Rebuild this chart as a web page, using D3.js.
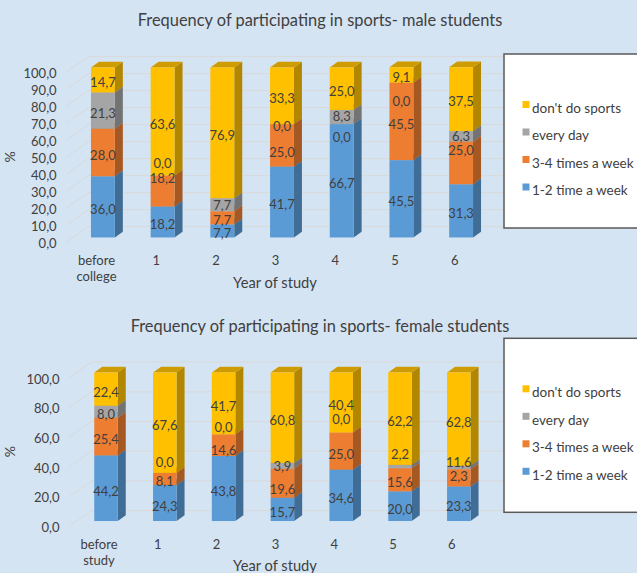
<!DOCTYPE html>
<html>
<head>
<meta charset="utf-8">
<script src="https://cdn.jsdelivr.net/npm/d3@7"></script>
<style>
  html, body { margin: 0; padding: 0; background: #d5e4f3; }
  svg { display: block; }
  text { font-family: Lato, "Open Sans", sans-serif; fill: #404040; }
</style>
</head>
<body>
<svg id="chart" width="637" height="573"></svg>
<script>
// Series, drawn bottom to top in each column
const seriesNames = ["1-2 time a week", "3-4 times a week", "every day", "don't do sports"];
const seriesColors = ["#5b9bd5", "#ed7d31", "#a5a5a5", "#ffc000"];

// Male students
const maleCategories = ["before college", "1", "2", "3", "4", "5", "6"];
const maleOnceTwice  = [36.0, 18.2, 7.7, 41.7, 66.7, 45.5, 31.3];
const maleThreeFour  = [28.0, 18.2, 7.7, 25.0, 0.0, 45.5, 25.0];
const maleEveryDay   = [21.3, 0.0, 7.7, 0.0, 8.3, 0.0, 6.3];
const maleNone       = [14.7, 63.6, 76.9, 33.3, 25.0, 9.1, 37.5];
const maleTicks      = [0, 10, 20, 30, 40, 50, 60, 70, 80, 90, 100];

// Female students
const femaleCategories = ["before study", "1", "2", "3", "4", "5", "6"];
const femaleOnceTwice  = [44.2, 24.3, 43.8, 15.7, 34.6, 20.0, 23.3];
const femaleThreeFour  = [25.4, 8.1, 14.6, 19.6, 25.0, 15.6, 11.6];
const femaleEveryDay   = [8.0, 0.0, 0.0, 3.9, 0.0, 2.2, 2.3];
const femaleNone       = [22.4, 67.6, 41.7, 60.8, 40.4, 62.2, 62.8];
const femaleTicks      = [0, 20, 40, 60, 80, 100];

// Hand-placed value labels (vertical shift in px), keyed "column|series"
const maleLabelShift = { "1|1": -15, "1|2": -15, "2|2": -2, "3|1": 5, "4|1": 11, "4|2": -3, "5|2": 16, "6|1": -15, "6|2": -2 };
const femaleLabelShift = { "1|2": -13, "2|1": 2, "2|2": -9.5, "3|1": 3, "3|2": -2.5, "4|2": -16, "5|2": -15, "6|1": -18, "6|2": 6 };

const locale = d3.formatLocale({ decimal: ",", thousands: " ", grouping: [3], currency: ["", ""] });
const fmt = locale.format(".1f");

const svg = d3.select("#chart");

function drawChart(cfg) {
  const g = svg.append("g");
  const k = 0.71;          // vertical rise per px of depth
  const dFront = cfg.dFront, dBar = 8, dWall = 21.7;

  const x = d3.scaleBand().domain(cfg.categories)
    .range([cfg.x0, cfg.x1]).paddingInner(0.6).paddingOuter(0.3);
  const y = d3.scaleLinear().domain([0, 100]).range([cfg.yBottom, cfg.yTop]);

  const stackData = cfg.categories.map((c, i) => {
    const o = { cat: c, idx: i };
    cfg.series.forEach((s, j) => o["s" + j] = s[i]);
    return o;
  });
  const keys = cfg.series.map((s, j) => "s" + j);
  const stacked = d3.stack().keys(keys)(stackData);

  // gridlines: side wall diagonal + back wall
  const wallRight = x.range()[1] + dWall + 10;
  g.append("g").selectAll("path").data(cfg.ticks).join("path")
    .attr("fill", "none").attr("stroke", "#d9d9d9").attr("stroke-width", 1)
    .attr("d", t => {
      const y0 = y(t);
      return `M${cfg.x0},${y0}L${cfg.x0 + dWall},${y0 - k * dWall}L${wallRight},${y0 - k * dWall}`;
    });

  // tick labels
  g.append("g").selectAll("text").data(cfg.ticks).join("text")
    .attr("x", cfg.x0 - 10).attr("y", t => y(t) + 1.5).attr("dy", "0.35em")
    .attr("text-anchor", "end").style("font-size", "13px")
    .text(t => fmt(t));

  // 3D columns
  const bw = x.bandwidth();
  stacked.forEach((layer, j) => {
    const base = d3.color(seriesColors[j]);
    const side = base.darker(1.0).formatHex();
    const top = base.darker(0.6).formatHex();
    const lg = g.append("g");
    layer.forEach(seg => {
      const cat = seg.data.cat;
      const xl = x(cat) + dFront;
      const xr = xl + bw;
      const yT = y(seg[1]) - k * dFront;
      const yB = y(seg[0]) - k * dFront;
      const ox = dBar, oy = -k * dBar;
      if (yB - yT <= 0.01) return;
      lg.append("path").attr("fill", side)
        .attr("d", `M${xr},${yT}L${xr + ox},${yT + oy}L${xr + ox},${yB + oy}L${xr},${yB}Z`);
      lg.append("path").attr("fill", top)
        .attr("d", `M${xl},${yT}L${xl + ox},${yT + oy}L${xr + ox},${yT + oy}L${xr},${yT}Z`);
      lg.append("rect").attr("fill", base.formatHex())
        .attr("x", xl).attr("y", yT).attr("width", bw).attr("height", yB - yT);
    });
  });

  // value labels
  const lab = g.append("g");
  stacked.forEach((layer, j) => {
    layer.forEach(seg => {
      const i = seg.data.idx;
      const v = cfg.series[j][i];
      const shift = cfg.labelShift[i + "|" + j] || 0;
      lab.append("text")
        .attr("x", x(seg.data.cat) + dFront + bw / 2)
        .attr("y", y((seg[0] + seg[1]) / 2) - 2 + shift)
        .attr("dy", "0.35em").attr("text-anchor", "middle")
        .style("font-size", "13px")
        .text(fmt(v));
    });
  });

  // category labels
  g.append("g").selectAll("text").data(cfg.categories).join("text")
    .attr("text-anchor", "middle").style("font-size", "13px")
    .attr("transform", c => `translate(${x(c) + bw / 2},${cfg.yBottom + 18})`)
    .each(function (c) {
      const words = c.split(" ");
      d3.select(this).selectAll("tspan").data(words).join("tspan")
        .attr("x", 0).attr("y", (w, n) => n * 16).attr("dy", "0.35em").text(w => w);
    });

  // axis titles
  g.append("text").attr("x", 275).attr("y", cfg.xTitleY).attr("dy", "0.35em")
    .attr("text-anchor", "middle").style("font-size", "14.7px").text("Year of study");
  g.append("text")
    .attr("transform", `translate(10,${(y(0) + y(100)) / 2}) rotate(-90)`)
    .attr("dy", "0.35em").attr("text-anchor", "middle").style("font-size", "14px").text("%");

  // chart title
  g.append("text").attr("x", 320).attr("y", cfg.titleY).attr("dy", "0.35em")
    .attr("text-anchor", "middle").style("font-size", "16.4px").text(cfg.title);

  // legend
  const leg = g.append("g").attr("transform", `translate(504,${cfg.legendTop})`);
  leg.append("rect").attr("x", 0).attr("y", 0).attr("width", 200).attr("height", 174)
    .attr("fill", "#ffffff").attr("stroke", "#595959").attr("stroke-width", 1.5);
  const order = [3, 2, 1, 0];
  order.forEach((j, n) => {
    const cy = 54 + n * 27.5;
    leg.append("rect").attr("x", 18.5).attr("y", cy - 7).attr("width", 7).attr("height", 7)
      .attr("fill", seriesColors[j]);
    leg.append("text").attr("x", 28).attr("y", cy).attr("dy", "0.35em")
      .style("font-size", "13.5px").text(seriesNames[j]);
  });
}

drawChart({
  title: "Frequency of participating in sports- male students",
  categories: maleCategories,
  series: [maleOnceTwice, maleThreeFour, maleEveryDay, maleNone],
  ticks: maleTicks,
  labelShift: maleLabelShift,
  x0: 66.65, x1: 484.55, yBottom: 242, yTop: 72, dFront: 6.4,
  titleY: 20, xTitleY: 283, legendTop: 54
});

drawChart({
  title: "Frequency of participating in sports- female students",
  categories: femaleCategories,
  series: [femaleOnceTwice, femaleThreeFour, femaleEveryDay, femaleNone],
  ticks: femaleTicks,
  labelShift: femaleLabelShift,
  x0: 69.6, x1: 481.2, yBottom: 526, yTop: 377.5, dFront: 7,
  titleY: 326.7, xTitleY: 566, legendTop: 338.3
});
</script>
</body>
</html>
